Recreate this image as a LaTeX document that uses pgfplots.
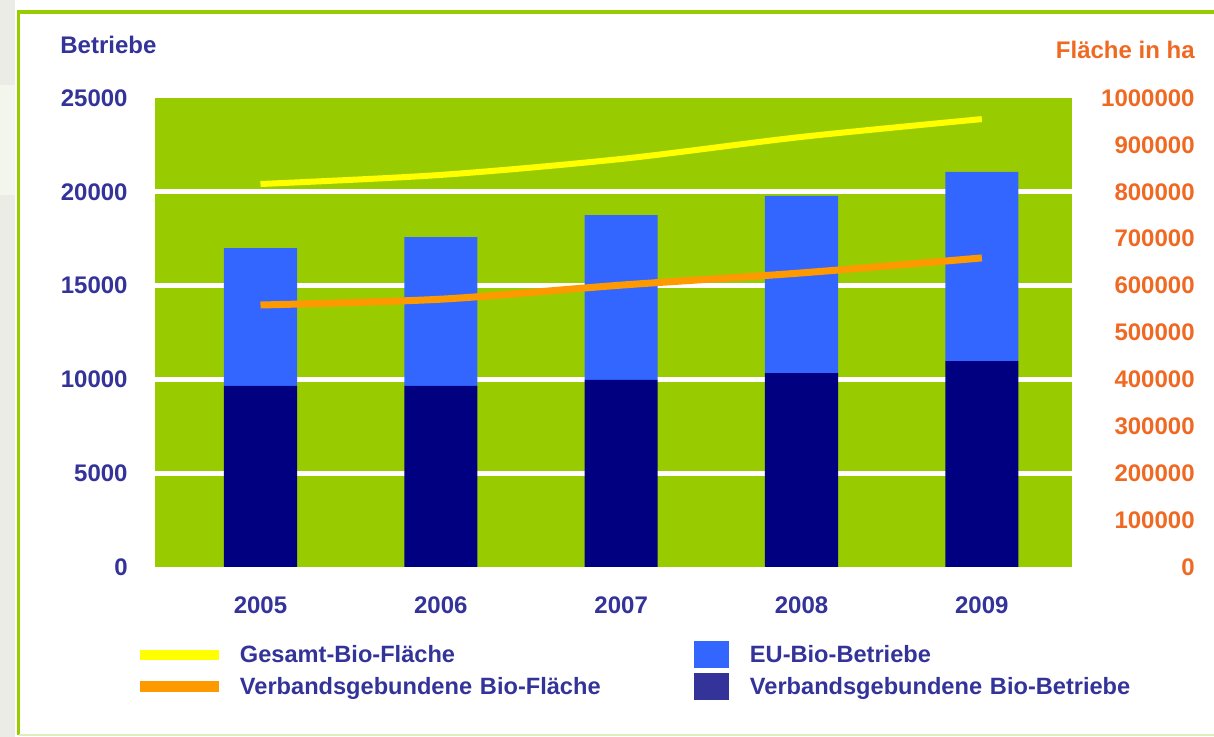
\documentclass[border=0pt]{standalone}
\usepackage{fontspec}
\setmainfont{Liberation Sans}
\usepackage{pgfplots}
\pgfplotsset{compat=1.18}
\definecolor{bggreen}{HTML}{99CC00}
\definecolor{eublue}{HTML}{3366FF}
\definecolor{navybar}{HTML}{000080}
\definecolor{navylab}{HTML}{333399}
\definecolor{ylw}{HTML}{FFFF00}
\definecolor{org}{HTML}{FF9900}
\definecolor{orglab}{RGB}{240,105,35}
\definecolor{framegreen}{HTML}{99CC00}
\definecolor{palegreen}{HTML}{DDEEBB}
\definecolor{stripgray}{HTML}{ECECE6}
\definecolor{patch}{RGB}{242,246,236}
\begin{document}
\begin{tikzpicture}
\path[use as bounding box] (0,0) rectangle (607pt,368.5pt);
\fill[white] (0,0) rectangle (607pt,368.5pt);
\fill[stripgray] (0,0) rectangle (7.5pt,368.5pt);
\fill[patch] (0pt,271pt) rectangle (7.5pt,326pt);
\draw[framegreen, line width=1.6pt] (620pt,362.5pt) -- (9.25pt,362.5pt) -- (9.25pt,1pt);
\draw[palegreen, line width=1.2pt] (9.25pt,1pt) -- (620pt,1pt);

\begin{axis}[
  at={(77.5pt,85pt)}, anchor=south west,
  scale only axis, width=458.5pt, height=234.5pt,
  xmin=-0.585, xmax=4.5, ymin=0, ymax=25000,
  ybar stacked, bar width=0.405,
  axis background/.style={fill=bggreen},
  axis line style={draw=none},
  major tick length=0pt,
  xtick={0,1,2,3,4}, xticklabels={2005,2006,2007,2008,2009},
  ytick={0,5000,10000,15000,20000,25000},
  extra y ticks={5000,10000,15000,20000}, extra y tick labels={},
  extra y tick style={grid=major},
  major grid style={white, line width=2.5pt},
  scaled y ticks=false,
  /pgf/number format/assume math mode=true,
  /pgf/number format/1000 sep={},
  tick label style={font=\fontsize{12}{14}\selectfont\bfseries},
  yticklabel style={anchor=east, inner sep=0pt, xshift=-13.5pt, text=navylab},
  xticklabel style={anchor=north, inner sep=0pt, yshift=-14.5pt, text=navylab},
]
\addplot[fill=navybar, draw=none] coordinates {(0,9650) (1,9650) (2,9970) (3,10340) (4,10980)};
\addplot[fill=eublue, draw=none] coordinates {(0,7350) (1,7940) (2,8790) (3,9440) (4,10080)};
\end{axis}

\begin{axis}[
  at={(77.5pt,85pt)}, anchor=south west,
  scale only axis, width=458.5pt, height=234.5pt,
  xmin=-0.585, xmax=4.5, ymin=0, ymax=1000000,
  axis x line=none, axis y line*=right,
  axis line style={draw=none},
  major tick length=0pt,
  ytick={0,100000,200000,300000,400000,500000,600000,700000,800000,900000,1000000},
  scaled y ticks=false,
  /pgf/number format/assume math mode=true,
  /pgf/number format/fixed,
  /pgf/number format/1000 sep={},
  tick label style={font=\fontsize{12}{14}\selectfont\bfseries},
  yticklabel style={anchor=east, inner sep=0pt, xshift=61.5pt, text=orglab},
  legend columns=2,
  legend style={at={(-0.01527,-0.1599)}, anchor=north west, draw=none, fill=none,
    inner sep=0pt, outer sep=0pt, column sep=10.5pt, row sep=3pt,
    font=\fontsize{11.8}{14}\selectfont\bfseries, text=navylab,
    nodes={inner sep=0pt, anchor=west, text width=217pt, text height=10pt, text depth=2pt}},
]
\addplot[ylw, line width=3pt, smooth,
  legend image code/.code={\fill[ylw, line width=0pt] (0pt,-2.25pt) rectangle (39pt,2.25pt);}]
  coordinates {(0,816600) (1,836000) (2,870000) (3,917000) (4,955000)};
\addlegendentry{Gesamt-Bio-Fläche}
\addlegendimage{legend image code/.code={\fill[eublue, line width=0pt] (0pt,-6.5pt) rectangle (17pt,6.5pt);}}
\addlegendentry{EU-Bio-Betriebe}
\addplot[org, line width=3.5pt, smooth,
  legend image code/.code={\fill[org, line width=0pt] (0pt,-2.5pt) rectangle (39pt,2.5pt);}]
  coordinates {(0,558600) (1,571000) (2,601000) (3,627000) (4,659000)};
\addlegendentry{Verbandsgebundene Bio-Fläche}
\addlegendimage{legend image code/.code={\fill[navylab, line width=0pt] (0pt,-6.5pt) rectangle (17pt,6.5pt);}}
\addlegendentry{Verbandsgebundene Bio-Betriebe}
\end{axis}

\node[anchor=west, text=navylab, font=\fontsize{12}{14}\selectfont\bfseries, inner sep=0pt] at (30pt,346.25pt) {Betriebe};
\node[anchor=east, text=orglab, font=\fontsize{12}{14}\selectfont\bfseries, inner sep=0pt] at (597.5pt,343.5pt) {Fläche in ha};
\end{tikzpicture}
\end{document}
